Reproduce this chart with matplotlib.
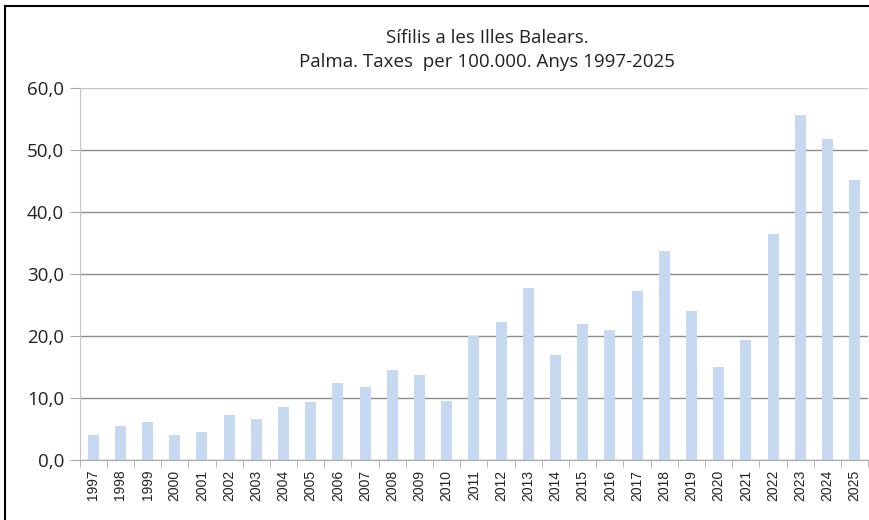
import numpy as np
import matplotlib.pyplot as plt
from matplotlib.lines import Line2D

plt.rcParams['font.family'] = ['Open Sans', 'DejaVu Sans']

# anys i taxes per 100.000 (llegides del grafic)
years = [str(y) for y in range(1997, 2026)]
rates = [4.1, 5.5, 6.2, 4.1, 4.6, 7.3, 6.6, 8.6, 9.3, 12.5,
         11.8, 14.5, 13.7, 9.6, 20.0, 22.3, 27.8, 16.9, 21.9, 21.0,
         27.3, 33.7, 24.1, 15.0, 19.3, 36.5, 55.7, 51.8, 45.2]
yticks = [0, 10, 20, 30, 40, 50, 60]
ytick_labels = ['0,0', '10,0', '20,0', '30,0', '40,0', '50,0', '60,0']

fig = plt.figure(figsize=(8.7, 5.2), dpi=100)
ax = fig.add_axes([0.0914, 0.1154, 0.9066, 0.7146])

x = np.arange(len(years))
ax.bar(x, rates, width=0.4, color='#c6d9f1', zorder=2)

ax.set_xlim(-0.5, len(years) - 0.5)
ax.set_ylim(0, 60)
ax.set_yticks(yticks)
ax.set_yticklabels(ytick_labels, fontsize=13.5, color='#222222')
ax.yaxis.grid(True, color='#8c8c8c', linewidth=1, zorder=0)
ax.get_ygridlines()[-1].set_color('#c4c4c4')
ax.tick_params(axis='y', length=7, color='#aaaaaa', pad=4)

# etiquetes al centre, marques entre categories
ax.set_xticks(x)
ax.set_xticklabels(years, rotation=90, fontsize=10, color='#222222',
                   family=['Liberation Sans', 'DejaVu Sans'])
ax.tick_params(axis='x', which='major', length=0, pad=7)
ax.set_xticks(np.arange(-0.5, len(years), 1), minor=True)
ax.tick_params(axis='x', which='minor', length=5, color='#aaaaaa')

for side in ['top', 'right']:
    ax.spines[side].set_visible(False)
ax.spines['left'].set_color('#c4c4c4')
ax.spines['bottom'].set_color('#aaaaaa')

fig.text(0.56, 1 - 38 / 520, 'Sífilis a les Illes Balears.', ha='center', va='center',
         fontsize=13.5, color='#222222')
fig.text(0.56, 1 - 62 / 520, 'Palma. Taxes  per 100.000. Anys 1997-2025', ha='center',
         va='center', fontsize=13.5, color='#222222')

# marc exterior (esquerra i dalt)
fig.add_artist(Line2D([5 / 870, 5 / 870], [0, 1 - 6 / 520], color='black', linewidth=1.5))
fig.add_artist(Line2D([5 / 870, 1], [1 - 6 / 520, 1 - 6 / 520], color='black', linewidth=1.5))

fig.savefig('out.png', dpi=100)
